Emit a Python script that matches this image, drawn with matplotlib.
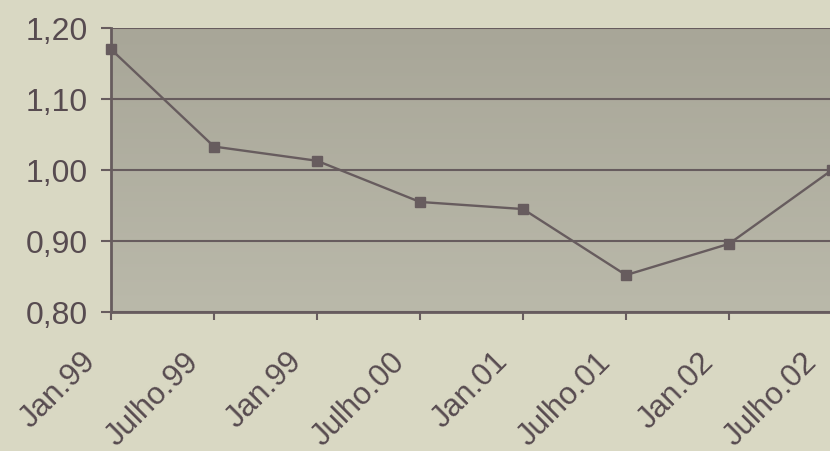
import numpy as np
import matplotlib.pyplot as plt
from matplotlib.transforms import ScaledTranslation

# índice por semestre
periodos = ["Jan.99", "Julho.99", "Jan.99", "Julho.00", "Jan.01", "Julho.01", "Jan.02", "Julho.02"]
indice = [1.17, 1.033, 1.013, 0.955, 0.945, 0.852, 0.896, 1.00]
marcas_y = [0.80, 0.90, 1.00, 1.10, 1.20]

fundo = "#d9d8c3"
traco = "#675c5e"
texto = "#574b50"

plt.rcParams['font.family'] = ['Liberation Sans', 'DejaVu Sans']

fig = plt.figure(figsize=(8.3, 4.52), dpi=100, facecolor=fundo)
ax = fig.add_axes([111 / 830, 1 - 313 / 452, 721 / 830, 284 / 452])

# fundo da área do gráfico, um pouco mais escuro em cima
topo = np.array([168, 166, 152]) / 255
base = np.array([186, 185, 170]) / 255
t = np.linspace(0, 1, 200)[:, None]
grad = (topo * (1 - t) + base * t)[:, None, :]
ax.imshow(grad, extent=[0, 1, 0, 1], transform=ax.transAxes, aspect='auto', zorder=0)

x = np.arange(len(periodos))
ax.set_xlim(0, len(periodos) - 1)
ax.set_ylim(0.80, 1.20)

for v in marcas_y:
    ax.axhline(v, color=traco, lw=1.5, zorder=1)

ax.plot(x, indice, color=traco, lw=1.7, marker='s', ms=7.5, mfc=traco, mec=traco,
        zorder=3, clip_on=False)

for lado in ['top', 'right']:
    ax.spines[lado].set_visible(False)
for lado in ['left', 'bottom']:
    ax.spines[lado].set_color(traco)
    ax.spines[lado].set_linewidth(2)

ax.set_yticks(marcas_y)
ax.set_yticklabels([f"{v:.2f}".replace('.', ',') for v in marcas_y])
ax.tick_params(axis='y', direction='out', length=7, width=1.5, color=traco,
               labelsize=23, labelcolor=texto, pad=10)

ax.set_xticks(x)
ax.set_xticklabels(periodos, rotation=45, ha='right', va='center', rotation_mode='anchor')
ax.tick_params(axis='x', direction='out', length=6, width=1.5, color=traco,
               labelsize=22.5, labelcolor=texto, pad=26)
for rotulo in ax.get_xticklabels():
    rotulo.set_transform(rotulo.get_transform() + ScaledTranslation(-0.2, 0, fig.dpi_scale_trans))

fig.savefig("out.png", dpi=100, facecolor=fundo)
